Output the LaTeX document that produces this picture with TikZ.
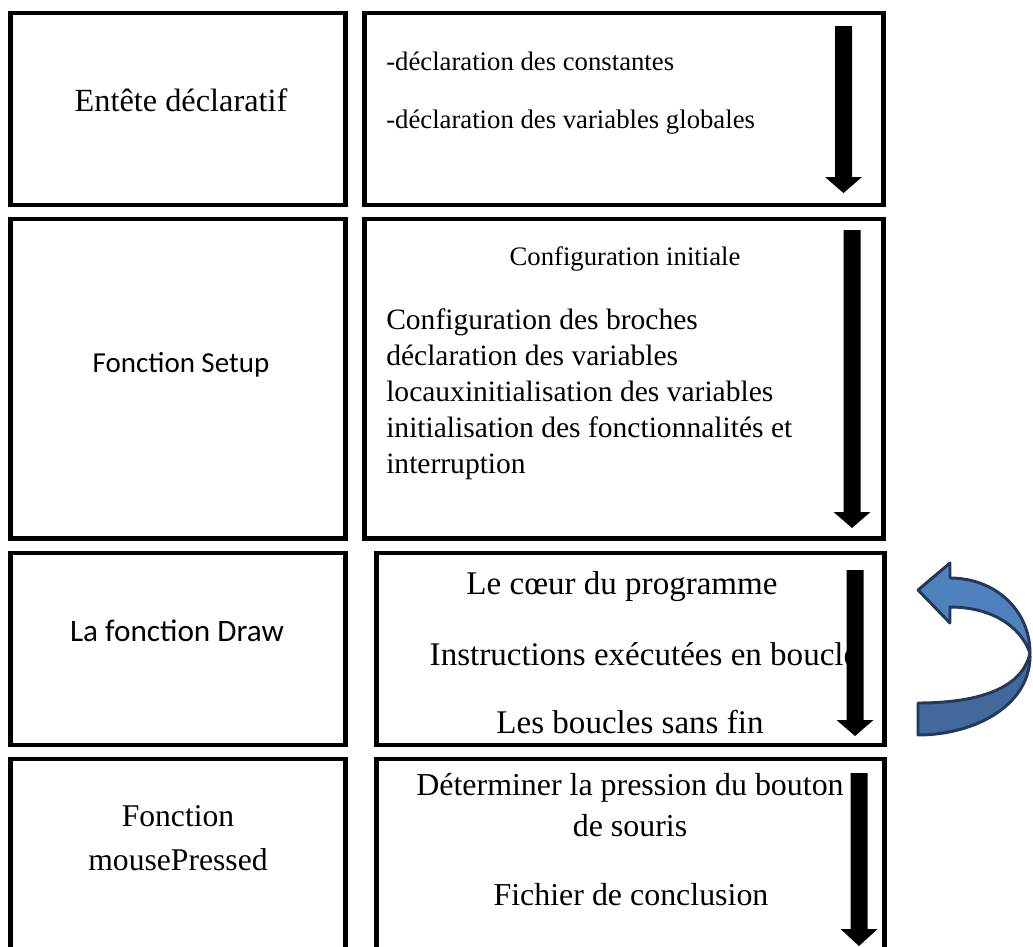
\documentclass[tikz,border=0pt]{standalone}
\usepackage{fontspec}
\setmainfont{Liberation Serif}
\newfontfamily\calibri{Carlito}
\usepackage{xcolor}
\usepackage{tikz}
\usetikzlibrary{positioning}

\definecolor{loopTop}{HTML}{4F81BD}
\definecolor{loopLow}{HTML}{41699B}
\definecolor{loopEdge}{HTML}{23395A}

\begin{document}
\begin{tikzpicture}[
    x=0.025cm, y=-0.025cm,
    box/.style={rectangle, draw, line width=3.5pt, inner sep=0pt},
    txt/.style={inner sep=0pt, anchor=base},
    list/.style={inner sep=0pt, anchor=base west, align=left},
    pics/flow/.style args={#1/#2}{code={
      \fill (-8.5,0) -- (8.5,0) -- (8.5,#1) -- (18.5,#1) -- (0,#2)
            -- (-18.5,#1) -- (-8.5,#1) -- cycle;
    }}
]
\useasboundingbox (0,0) rectangle (1033,947);
\clip (0,0) rectangle (1033,947);

% left column
\node[box, minimum width=8.3625cm, minimum height=4.8cm]   (entete) at (178.25,109)   {};
\node[box, minimum width=8.3625cm, minimum height=7.975cm] (setup)  at (178.25,378.5) {};
\node[box, minimum width=8.3625cm, minimum height=4.8cm]   (draw)   at (178.25,649)   {};
\node[box, minimum width=8.3625cm, minimum height=5.025cm] (mouse)  at (178.25,859.5) {};

% right column
\node[box, minimum width=12.95cm,  minimum height=4.8cm]   (decl)   at (624,109)     {};
\node[box, minimum width=12.95cm,  minimum height=7.975cm] (config) at (624,378.5)   {};
\node[box, minimum width=12.675cm, minimum height=4.8cm]   (coeur)  at (630.5,649)   {};
\node[box, minimum width=12.675cm, minimum height=5.025cm] (souris) at (630.5,859.5) {};

\node[txt, font=\fontsize{23}{28}\selectfont] (enteteT) at (181,111) {Entête déclaratif};
\node[txt, font=\calibri\fontsize{20.6}{25}\selectfont] (setupT) at (181,372) {Fonction Setup};
\node[txt, font=\calibri\fontsize{22.2}{27}\selectfont] (drawT) at (177,641) {La fonction Draw};
\node[txt, font=\fontsize{22.5}{30.6}\selectfont, align=center] (mouseT) at (178,870) {Fonction\\mousePressed};

\node[list, font=\fontsize{19}{23}\selectfont] (decl1) at (386,70)  {-déclaration des constantes};
\node[list, font=\fontsize{19}{23}\selectfont] (decl2) at (386,128) {-déclaration des variables globales};

\node[txt, font=\fontsize{19}{23}\selectfont] (configT) at (625,265) {Configuration initiale};
\node[list, font=\fontsize{21}{25.6}\selectfont] (configL) at (386,473)
  {Configuration des broches\\déclaration des variables\\locauxinitialisation des variables\\initialisation des fonctionnalités et\\interruption};

\node[txt, font=\fontsize{23.5}{28}\selectfont] (coeur1) at (622,594) {Le cœur du programme};
\node[txt, font=\fontsize{23.5}{28}\selectfont] (coeur2) at (644,665) {Instructions exécutées en boucle};
\node[txt, font=\fontsize{23.5}{28}\selectfont] (coeur3) at (630,733) {Les boucles sans fin};

\node[txt, font=\fontsize{22.7}{29}\selectfont, align=center] (souris1) at (630,836) {Déterminer la pression du bouton\\de souris};
\node[txt, font=\fontsize{22.7}{28}\selectfont] (souris2) at (631,905) {Fichier de conclusion};

% flow arrows
\pic at (843.5,26) {flow=151/167};
\pic at (852,230)  {flow=282/298};
\pic at (855,570)  {flow=150/166};
\pic at (859,773)  {flow=156/173};

% loop arrow
\draw[loopEdge, line width=2.1pt, line join=round, fill=loopTop]
  (918,590) -- (950,563) -- (950,578)
  .. controls (995,578) and (1030,610) .. (1030,653)
  .. controls (1020,625) and (990,607) .. (950,607)
  -- (950,623) -- cycle;
\draw[loopEdge, line width=2.1pt, line join=round, fill=loopLow]
  (1030,653) .. controls (1032,705) and (975,735) .. (918,735)
  -- (918,703) .. controls (975,703) and (1022,690) .. (1030,653) -- cycle;
\end{tikzpicture}
\end{document}
